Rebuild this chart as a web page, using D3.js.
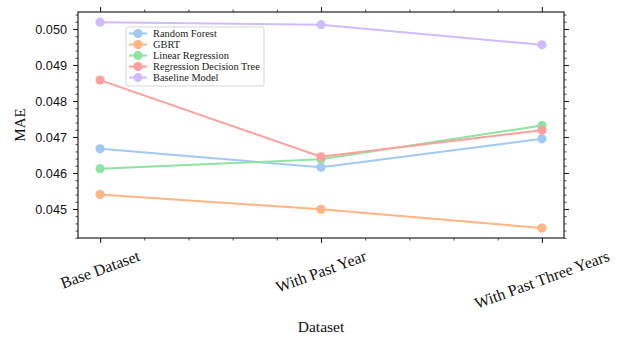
<!DOCTYPE html>
<html><head><meta charset="utf-8">
<script src="https://cdn.jsdelivr.net/npm/d3@7"></script>
<style>body{margin:0;background:#fff}svg{display:block}</style>
</head><body><svg id="c" width="630" height="338"></svg>
<script>
const categories = ["Base Dataset", "With Past Year", "With Past Three Years"];
const seriesNames = ["Random Forest", "GBRT", "Linear Regression", "Regression Decision Tree", "Baseline Model"];
const randomForest = [0.04667, 0.04616, 0.04695];
const gbrt = [0.04540, 0.04499, 0.04447];
const linearRegression = [0.04612, 0.04638, 0.04732];
const regressionTree = [0.04858, 0.04645, 0.04719];
const baselineModel = [0.05019, 0.05012, 0.04956];
const yTicks = [0.045, 0.046, 0.047, 0.048, 0.049, 0.050];
const colors = ["#a1c9f4", "#ffb482", "#8de5a1", "#ff9f9b", "#d0bbff"];
const seriesValues = [randomForest, gbrt, linearRegression, regressionTree, baselineModel];

const svg = d3.select("#c");
const L = 78, R = 564, T = 12, B = 238;
const x = d3.scaleLinear().domain([-0.1, 2.1]).range([L, R]);
const y = d3.scaleLinear().domain([0.044194, 0.050472]).range([B, T]);
const serif = "'Liberation Serif', 'Times New Roman', serif";
const sans = "'Liberation Sans', Arial, sans-serif";

const majorX = [0, 1, 2];
const minorX = d3.range(-0.0, 2.01, 0.2).filter(v => Math.abs(v - Math.round(v)) > 1e-6);
const minorY = d3.range(0.0442, 0.05047, 0.0002).filter(v => !yTicks.some(t => Math.abs(t - v) < 1e-7));

function styleAxis(g) {
  g.select(".domain").remove();
  g.selectAll("line").attr("stroke", "#222");
}
svg.append("g").attr("transform", `translate(0,${B})`)
  .call(d3.axisBottom(x).tickValues(majorX).tickSize(5).tickFormat(""))
  .call(styleAxis).selectAll("line").attr("stroke-width", 1.1);
svg.append("g").attr("transform", `translate(0,${B})`)
  .call(d3.axisBottom(x).tickValues(minorX).tickSize(2.5).tickFormat(""))
  .call(styleAxis).selectAll("line").attr("stroke-width", 0.8);
svg.append("g").attr("transform", `translate(0,${T})`)
  .call(d3.axisTop(x).tickValues(majorX).tickSize(5).tickFormat(""))
  .call(styleAxis).selectAll("line").attr("stroke-width", 1.1);
svg.append("g").attr("transform", `translate(0,${T})`)
  .call(d3.axisTop(x).tickValues(minorX).tickSize(2.5).tickFormat(""))
  .call(styleAxis).selectAll("line").attr("stroke-width", 0.8);
const la = svg.append("g").attr("transform", `translate(${L},0)`)
  .call(d3.axisLeft(y).tickValues(yTicks).tickSize(5).tickPadding(6).tickFormat(d3.format(".3f")))
  .call(styleAxis);
la.selectAll("line").attr("stroke-width", 1.1);
la.selectAll("text").attr("font-family", sans).attr("font-size", "12.7px").attr("fill", "#111");
svg.append("g").attr("transform", `translate(${L},0)`)
  .call(d3.axisLeft(y).tickValues(minorY).tickSize(2.5).tickFormat(""))
  .call(styleAxis).selectAll("line").attr("stroke-width", 0.8);
svg.append("g").attr("transform", `translate(${R},0)`)
  .call(d3.axisRight(y).tickValues(yTicks).tickSize(5).tickFormat(""))
  .call(styleAxis).selectAll("line").attr("stroke-width", 1.1);
svg.append("g").attr("transform", `translate(${R},0)`)
  .call(d3.axisRight(y).tickValues(minorY).tickSize(2.5).tickFormat(""))
  .call(styleAxis).selectAll("line").attr("stroke-width", 0.8);

svg.append("rect").attr("x", L).attr("y", T).attr("width", R - L).attr("height", B - T)
  .attr("fill", "none").attr("stroke", "#222").attr("stroke-width", 1.2);

const ang = 20 * Math.PI / 180;
categories.forEach((c, i) => {
  const t = svg.append("text").text(c).attr("font-family", serif).attr("font-size", "16px")
    .attr("fill", "#111").attr("text-anchor", "middle").attr("dominant-baseline", "central");
  const w = t.node().getComputedTextLength();
  const h = 13;
  const bh = w * Math.sin(ang) + h * Math.cos(ang);
  const cy = 249 + bh / 2;
  t.attr("transform", `translate(${x(i)},${cy}) rotate(-20)`);
});

svg.append("text").text("Dataset").attr("x", (L + R) / 2).attr("y", 332)
  .attr("text-anchor", "middle").attr("font-family", serif).attr("font-size", "15.5px").attr("fill", "#111");
svg.append("text").text("MAE").attr("transform", "translate(25,125) rotate(-90)")
  .attr("text-anchor", "middle").attr("font-family", serif).attr("font-size", "15px").attr("fill", "#111");

const line = d3.line().x((d, i) => x(i)).y(d => y(d));
seriesValues.forEach((vals, s) => {
  const g = svg.append("g");
  g.append("path").datum(vals).attr("d", line).attr("fill", "none")
    .attr("stroke", colors[s]).attr("stroke-width", 2);
  g.selectAll("circle").data(vals).join("circle")
    .attr("cx", (d, i) => x(i)).attr("cy", d => y(d)).attr("r", 4.6).attr("fill", colors[s]);
});

const lg = svg.append("g").attr("transform", "translate(126,27)");
lg.append("rect").attr("width", 138).attr("height", 59).attr("rx", 2)
  .attr("fill", "rgba(255,255,255,0.8)").attr("stroke", "#cccccc").attr("stroke-width", 0.8);
seriesNames.forEach((n, i) => {
  const yy = 6.5 + i * 11;
  lg.append("line").attr("x1", 3).attr("x2", 21).attr("y1", yy).attr("y2", yy)
    .attr("stroke", colors[i]).attr("stroke-width", 2);
  lg.append("circle").attr("cx", 12).attr("cy", yy).attr("r", 4.6).attr("fill", colors[i]);
  lg.append("text").text(n).attr("x", 27).attr("y", yy).attr("dominant-baseline", "central")
    .attr("font-family", serif).attr("font-size", "10.4px").attr("fill", "#222");
});
</script></body></html>
